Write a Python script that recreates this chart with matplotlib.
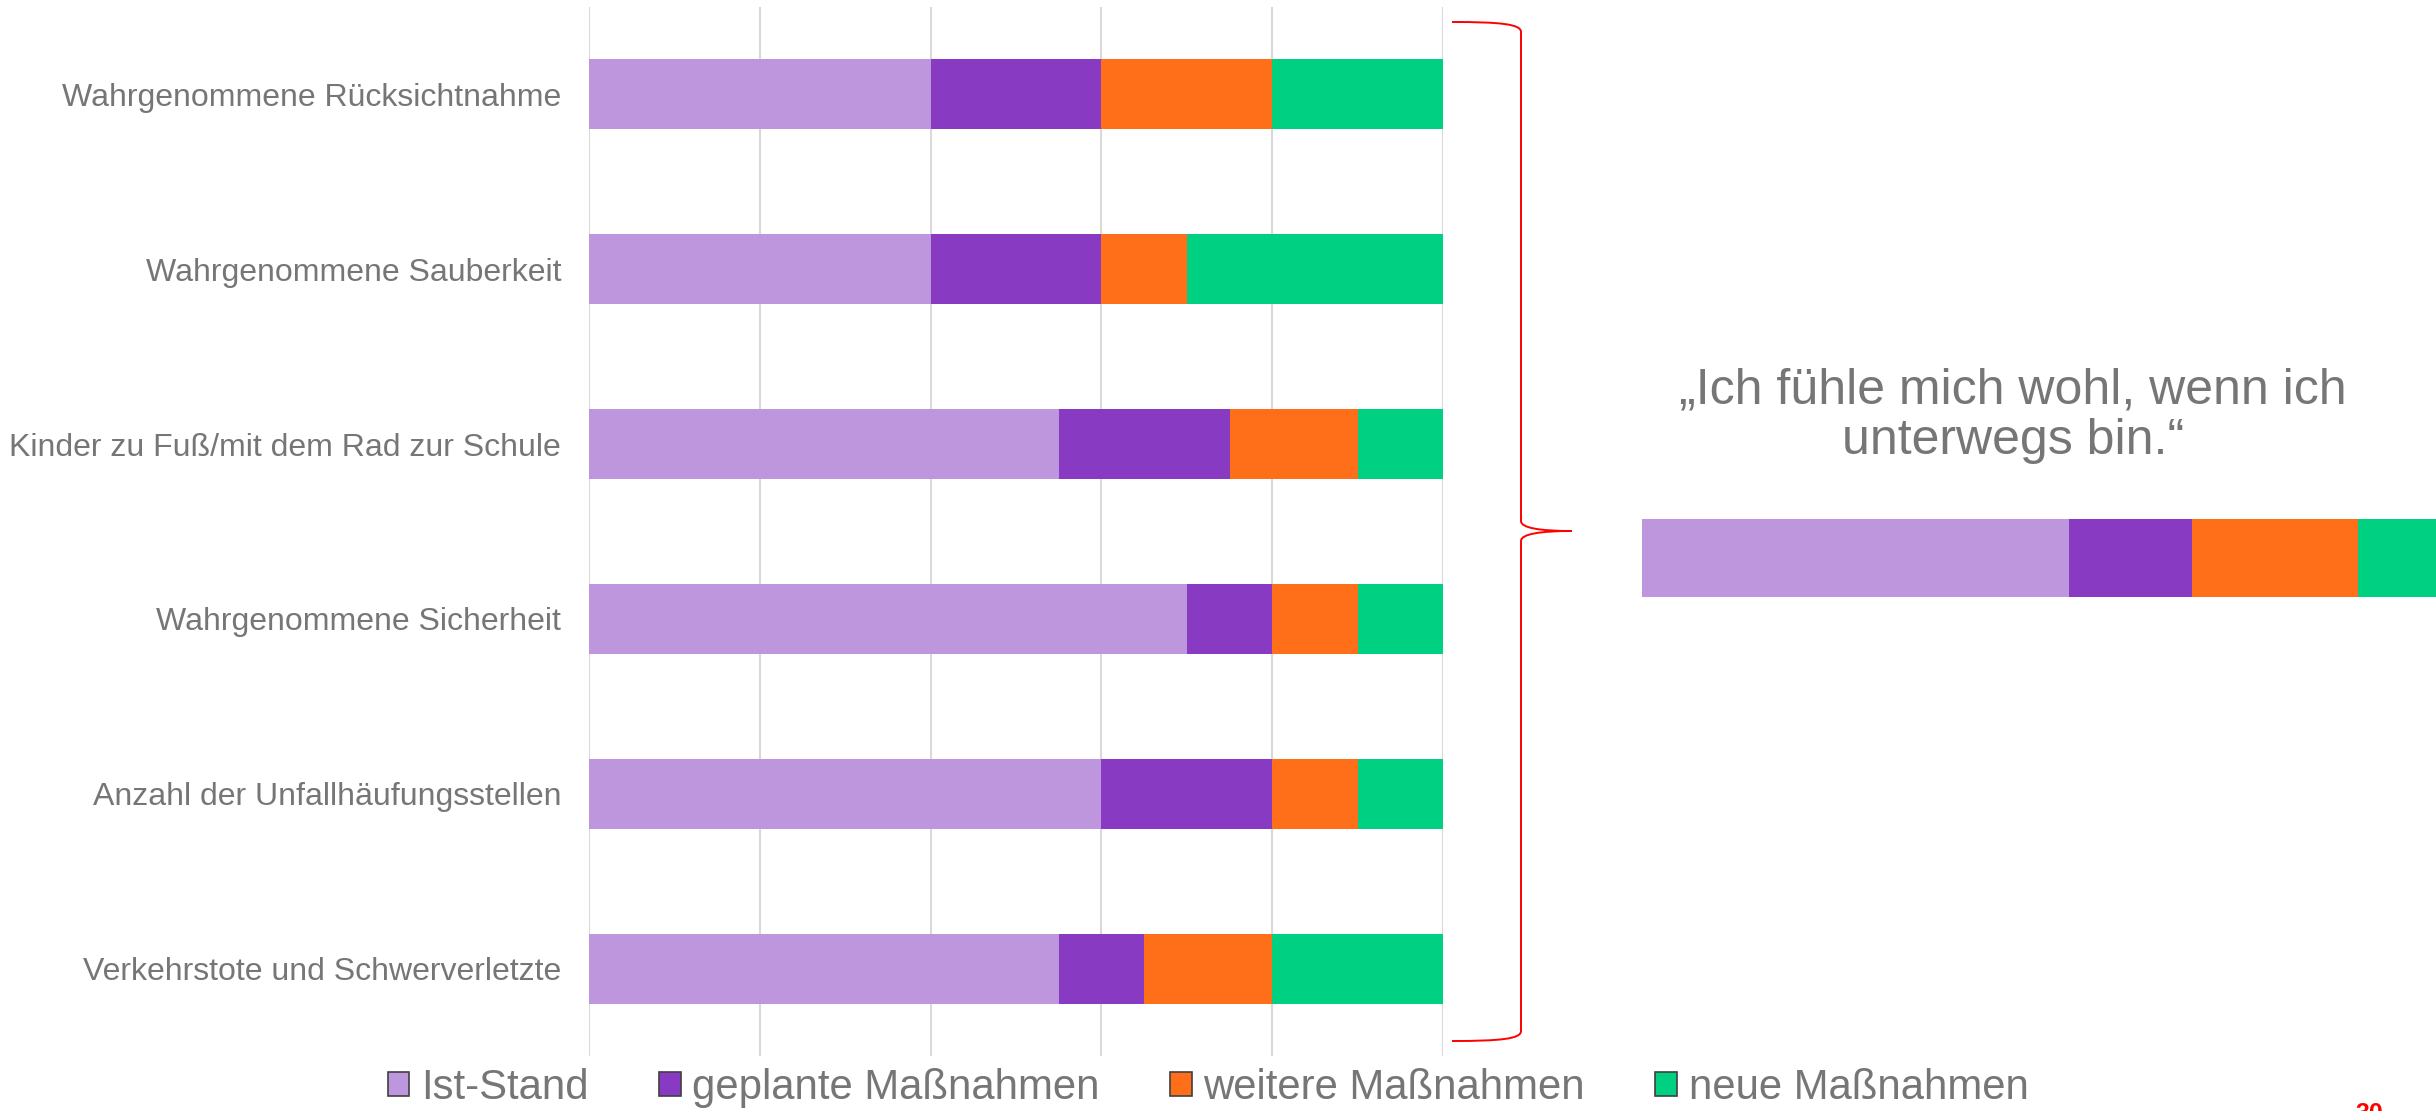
import matplotlib
matplotlib.use("Agg")
import matplotlib.pyplot as plt
from matplotlib.patches import Patch, PathPatch
from matplotlib.path import Path

plt.rcParams['font.family'] = ['Liberation Sans', 'DejaVu Sans']

# data (units of the grid, each row sums to 5)
categories = ['Wahrgenommene Rücksichtnahme',
              'Wahrgenommene Sauberkeit',
              'Kinder zu Fuß/mit dem Rad zur Schule',
              'Wahrgenommene Sicherheit',
              'Anzahl der Unfallhäufungsstellen',
              'Verkehrstote und Schwerverletzte']
series_names = ['Ist-Stand', 'geplante Maßnahmen', 'weitere Maßnahmen', 'neue Maßnahmen']
ist_stand = [2.0, 2.0, 2.75, 3.5, 3.0, 2.75]
geplant = [1.0, 1.0, 1.0, 0.5, 1.0, 0.5]
weitere = [1.0, 0.5, 0.75, 0.5, 0.5, 0.75]
neue = [1.0, 1.5, 0.5, 0.5, 0.5, 1.0]

# summary bar on the right
summary = [2.5, 0.72, 0.97, 0.81]
quote_lines = ['„Ich fühle mich wohl, wenn ich', 'unterwegs bin.“']

colors = ['#BE96DE', '#883BC2', '#FF6F1A', '#00D082']
gray = '#767676'

W, H = 2436, 1111
fig = plt.figure(figsize=(W / 100, H / 100), dpi=100)

def fx(x):
    return x / W

def fy(y):
    return 1 - y / H

# main chart
ax = fig.add_axes([fx(589), fy(1056), fx(1443 - 589), (1056 - 7) / H])
series = [ist_stand, geplant, weitere, neue]
ypos = list(range(len(categories)))
left = [0.0] * len(categories)
for vals, c, name in zip(series, colors, series_names):
    ax.barh(ypos, vals, left=left, height=0.4, color=c, label=name, zorder=2)
    left = [l + v for l, v in zip(left, vals)]

ax.set_xlim(0, 5)
ax.set_ylim(len(categories) - 0.5, -0.5)
ax.set_xticks(range(6))
ax.set_xticklabels([])
ax.set_yticks(ypos)
ax.set_yticklabels(categories, fontsize=23, color=gray)
ax.tick_params(axis='both', length=0)
ax.tick_params(axis='y', pad=20)
ax.grid(axis='x', color='#D9D9D9', linewidth=1.5, zorder=0)
for s in ax.spines.values():
    s.set_visible(False)

# summary bar
ax2 = fig.add_axes([fx(1642), fy(597), fx(854), 78 / H])
l2 = 0.0
for v, c in zip(summary, colors):
    ax2.barh([0], [v], left=l2, height=1.0, color=c)
    l2 += v
ax2.set_xlim(0, 5)
ax2.set_ylim(-0.5, 0.5)
ax2.axis('off')

# quote
fig.text(fx(2013), fy(403), quote_lines[0], fontsize=36, color=gray,
         ha='center', va='baseline')
fig.text(fx(2013), fy(454), quote_lines[1], fontsize=36, color=gray,
         ha='center', va='baseline')

# red brace
pts = [(1452, 22), (1500, 22), (1521, 24), (1521, 32),
       (1521, 521),
       (1521, 528), (1540, 531), (1572, 531),
       (1540, 531), (1521, 534), (1521, 541),
       (1521, 1031),
       (1521, 1039), (1500, 1041), (1452, 1041)]
codes = [Path.MOVETO, Path.CURVE4, Path.CURVE4, Path.CURVE4,
         Path.LINETO,
         Path.CURVE4, Path.CURVE4, Path.CURVE4,
         Path.CURVE4, Path.CURVE4, Path.CURVE4,
         Path.LINETO,
         Path.CURVE4, Path.CURVE4, Path.CURVE4]
brace = Path([(fx(x), fy(y)) for x, y in pts], codes)
fig.patches.append(PathPatch(brace, transform=fig.transFigure, fill=False,
                             edgecolor='#FF0000', linewidth=1.4))

# legend
handles = [Patch(facecolor=c, edgecolor='#404040', linewidth=1.2) for c in colors]
fig.legend(handles, series_names, loc='center', bbox_to_anchor=(fx(1208), fy(1088)),
           ncol=4, frameon=False, fontsize=30.2, labelcolor=gray,
           handlelength=0.52, handleheight=0.52, handletextpad=0.28,
           columnspacing=1.67, borderpad=0, borderaxespad=0)

# page number (cut off at the bottom edge, as on the slide)
fig.text(fx(2355), fy(1121), '30', fontsize=18, color='#FF0000',
         fontweight='bold', ha='left', va='baseline')

fig.savefig('out.png', dpi=100)
